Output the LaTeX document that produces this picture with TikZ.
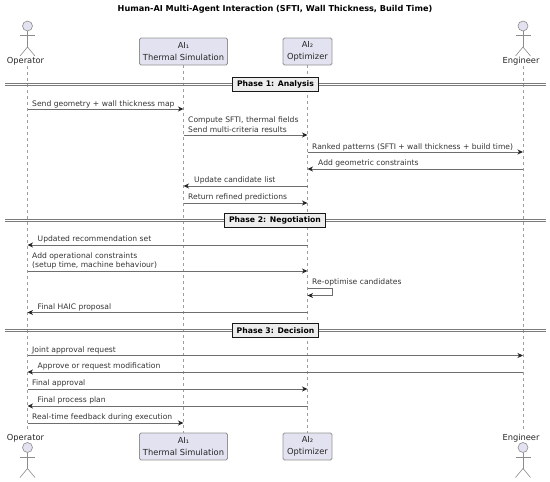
\documentclass[tikz,border=0pt]{standalone}
\usepackage{fontspec}
\setmainfont{DejaVu Sans}
\usetikzlibrary{arrows.meta}
\definecolor{boxfill}{HTML}{E2E2F0}
\definecolor{linegrey}{HTML}{6E6E6E}
\begin{document}
\begin{tikzpicture}[x=1pt,y=-1pt]
	\tikzstyle{part}=[draw=black!42,fill=boxfill,rounded corners=1.5pt,line width=0.9pt,align=center,font=\fontsize{8.3}{11.5}\selectfont,text=black!85,inner sep=0pt]
	\tikzstyle{phase}=[draw=black!90,fill=black!7,line width=1pt,font=\fontsize{7.7}{9}\selectfont\bfseries,minimum height=14pt,inner sep=0pt]
	\tikzstyle{msg}=[anchor=west,align=left,font=\fontsize{7.6}{9.2}\selectfont,text=black!80,inner sep=0pt]
	\tikzstyle{actorname}=[font=\fontsize{8.3}{10}\selectfont,text=black!85,inner sep=0pt]
	\tikzstyle{edge}=[draw=linegrey,line width=0.9pt]
	\tikzstyle{arrow}=[edge,-{Stealth[length=5.5pt,width=5pt,inset=1.6pt,color=black!85]}]
	\tikzstyle{life}=[draw=black!38,line width=0.6pt,dash pattern=on 3pt off 3pt]
	\tikzstyle{stick}=[draw=black!45,line width=0.6pt,fill=boxfill]
	\tikzstyle{rule}=[draw=black!52,line width=1pt]

	\useasboundingbox (0,0) rectangle (550,482);

	\node [font=\fontsize{8.15}{10}\selectfont\bfseries] (title) at (275,9.5) {Human-AI Multi-Agent Interaction (SFTI, Wall Thickness, Build Time)};

	% participants
	\node [actorname] (op) at (25.5,61) {Operator};
	\node [actorname] (en) at (521,61) {Engineer};
	\node [part,minimum width=88pt,minimum height=27pt] (th) at (183.5,51.5) {AI₁\\Thermal Simulation};
	\node [part,minimum width=49pt,minimum height=27pt] (ai) at (307.5,51.5) {AI₂\\Optimizer};
	\node [actorname] (opb) at (25.5,438) {Operator};
	\node [actorname] (enb) at (521,438) {Engineer};
	\node [part,minimum width=88pt,minimum height=27pt] (thb) at (183.5,446.5) {AI₁\\Thermal Simulation};
	\node [part,minimum width=49pt,minimum height=27pt] (aib) at (307.5,446.5) {AI₂\\Optimizer};

	% lifelines
	\coordinate (opt) at (27.5,66);
	\coordinate (opd) at (27.5,432);
	\coordinate (ent) at (523,66);
	\coordinate (end) at (523,432);
	\path[life] (opt) -- (opd);
	\path[life] (th) -- (thb);
	\path[life] (ai) -- (aib);
	\path[life] (ent) -- (end);

	% stick figures
	\foreach \nm/\cx/\cy in {a/27.5/26, b/27.5/447.5, c/523/26, d/523/447.5}{
		\draw[stick] (\cx,\cy) circle (5pt);
		\draw[stick,fill=none] (\cx,\cy+5) -- (\cx,\cy+21);
		\draw[stick,fill=none] (\cx-7.5,\cy+9.5) -- (\cx+7.5,\cy+9.5);
		\draw[stick,fill=none] (\cx-7.5,\cy+30) -- (\cx,\cy+21) -- (\cx+7.5,\cy+30);
	}

	% phase separators
	\coordinate (r1a) at (5,83.7);
	\coordinate (r1b) at (546,83.7);
	\coordinate (r1c) at (5,85.5);
	\coordinate (r1d) at (546,85.5);
	\coordinate (r2a) at (5,219.9);
	\coordinate (r2b) at (546,219.9);
	\coordinate (r2c) at (5,221.7);
	\coordinate (r2d) at (546,221.7);
	\coordinate (r3a) at (5,329.4);
	\coordinate (r3b) at (546,329.4);
	\coordinate (r3c) at (5,331.2);
	\coordinate (r3d) at (546,331.2);
	\path[rule] (r1a) -- (r1b);
	\path[rule] (r1c) -- (r1d);
	\path[rule] (r2a) -- (r2b);
	\path[rule] (r2c) -- (r2d);
	\path[rule] (r3a) -- (r3b);
	\path[rule] (r3c) -- (r3d);
	\node [phase,minimum width=86.5pt] (p1) at (275.5,84.5) {Phase 1: Analysis};
	\node [phase,minimum width=101pt] (p2) at (275,220.8) {Phase 2: Negotiation};
	\node [phase,minimum width=86.5pt] (p3) at (275.5,330.3) {Phase 3: Decision};

	% phase 1
	\coordinate (a1) at (27.5,109);
	\coordinate (b1) at (183.5,109);
	\path[arrow] (a1) -- (b1);
	\node [msg] (t1) at (32,104) {Send geometry + wall thickness map};
	\coordinate (a2) at (183.5,135);
	\coordinate (b2) at (307.5,135);
	\path[arrow] (a2) -- (b2);
	\node [msg] (t2) at (188,124.7) {Compute SFTI, thermal fields\\Send multi-criteria results};
	\coordinate (a3) at (307.5,152);
	\coordinate (b3) at (523,152);
	\path[arrow] (a3) -- (b3);
	\node [msg] (t3) at (312,147) {Ranked patterns (SFTI + wall thickness + build time)};
	\coordinate (a4) at (523,169);
	\coordinate (b4) at (307.5,169);
	\path[arrow] (a4) -- (b4);
	\node [msg] (t4) at (318,163.7) {Add geometric constraints};
	\coordinate (a5) at (307.5,186);
	\coordinate (b5) at (183.5,186);
	\path[arrow] (a5) -- (b5);
	\node [msg] (t5) at (194,180.7) {Update candidate list};
	\coordinate (a6) at (183.5,203);
	\coordinate (b6) at (307.5,203);
	\path[arrow] (a6) -- (b6);
	\node [msg] (t6) at (188,197.7) {Return refined predictions};

	% phase 2
	\coordinate (a7) at (307.5,245);
	\coordinate (b7) at (27.5,245);
	\path[arrow] (a7) -- (b7);
	\node [msg] (t7) at (37.5,239.7) {Updated recommendation set};
	\coordinate (a8) at (27.5,271);
	\coordinate (b8) at (307.5,271);
	\path[arrow] (a8) -- (b8);
	\node [msg] (t8) at (32,261) {Add operational constraints\\(setup time, machine behaviour)};
	\coordinate (a9) at (307.5,288);
	\coordinate (c9) at (332.5,288);
	\coordinate (d9) at (332.5,295.5);
	\coordinate (b9) at (307.5,295.5);
	\path[arrow] (a9) -- (c9) -- (d9) -- (b9);
	\node [msg] (t9) at (312,282.5) {Re-optimise candidates};
	\coordinate (a10) at (307.5,312.5);
	\coordinate (b10) at (27.5,312.5);
	\path[arrow] (a10) -- (b10);
	\node [msg] (t10) at (37.5,307) {Final HAIC proposal};

	% phase 3
	\coordinate (a11) at (27.5,355.5);
	\coordinate (b11) at (523,355.5);
	\path[arrow] (a11) -- (b11);
	\node [msg] (t11) at (32,350) {Joint approval request};
	\coordinate (a12) at (523,372);
	\coordinate (b12) at (27.5,372);
	\path[arrow] (a12) -- (b12);
	\node [msg] (t12) at (37.5,366.7) {Approve or request modification};
	\coordinate (a13) at (27.5,389);
	\coordinate (b13) at (307.5,389);
	\path[arrow] (a13) -- (b13);
	\node [msg] (t13) at (32,383.7) {Final approval};
	\coordinate (a14) at (307.5,406);
	\coordinate (b14) at (27.5,406);
	\path[arrow] (a14) -- (b14);
	\node [msg] (t14) at (37.5,400.7) {Final process plan};
	\coordinate (a15) at (27.5,423);
	\coordinate (b15) at (183.5,423);
	\path[arrow] (a15) -- (b15);
	\node [msg] (t15) at (32,417.7) {Real-time feedback during execution};
\end{tikzpicture}
\end{document}
